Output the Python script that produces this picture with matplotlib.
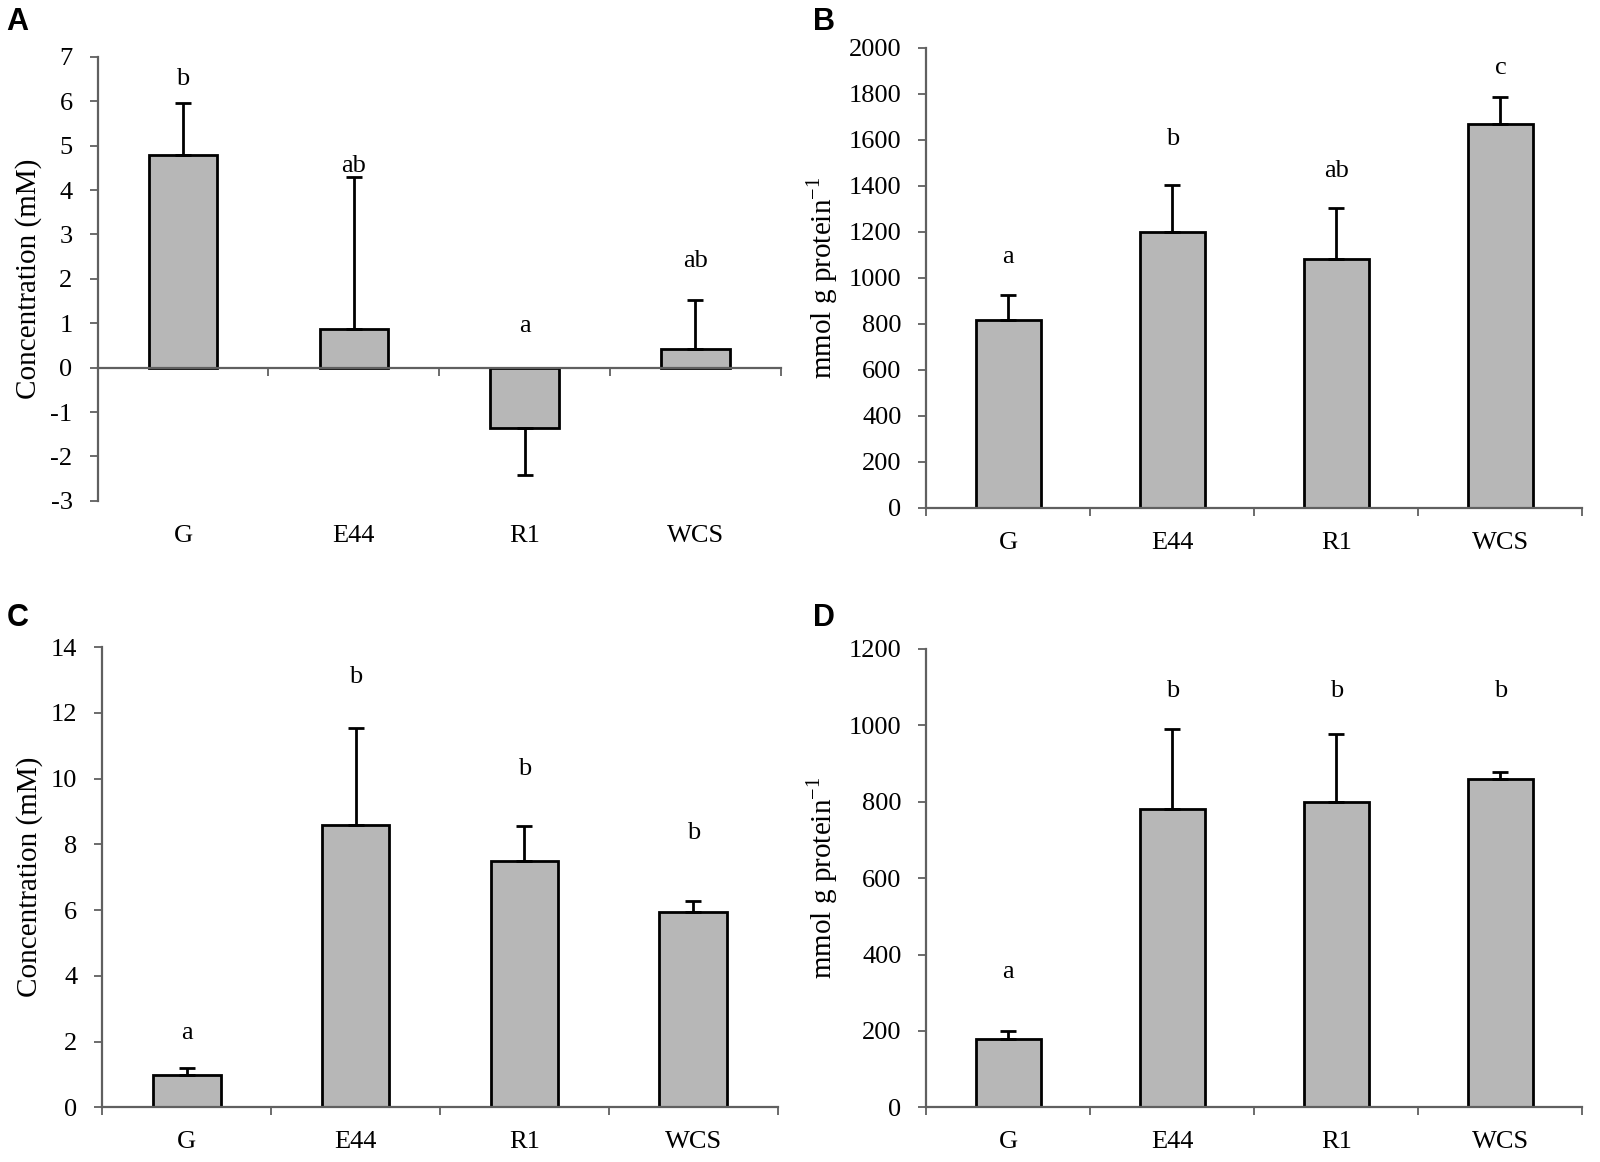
import matplotlib.pyplot as plt
import numpy as np

plt.rcParams['font.family'] = 'Liberation Serif'
plt.rcParams['mathtext.fontset'] = 'custom'
plt.rcParams['mathtext.rm'] = 'Liberation Serif'
plt.rcParams['axes.unicode_minus'] = False

groups = ['G', 'E44', 'R1', 'WCS']

# panel A
a_vals = [4.8, 0.86, -1.36, 0.43]
a_err = [1.17, 3.44, 1.05, 1.09]
a_sig = ['b', 'ab', 'a', 'ab']
a_sig_y = [6.5, 4.55, 0.93, 2.4]

# panel B
b_vals = [818, 1199, 1080, 1667]
b_err = [106, 204, 222, 117]
b_sig = ['a', 'b', 'ab', 'c']
b_sig_y = [1091, 1604, 1466, 1910]

# panel C
c_vals = [1.0, 8.6, 7.5, 5.95]
c_err = [0.2, 2.95, 1.06, 0.33]
c_sig = ['a', 'b', 'b', 'b']
c_sig_y = [2.25, 13.1, 10.3, 8.34]

# panel D
d_vals = [178, 781, 800, 860]
d_err = [21, 209, 178, 17]
d_sig = ['a', 'b', 'b', 'b']
d_sig_y = [355, 1090, 1090, 1090]

conc_label = 'Concentration (mM)'
prot_label = r'mmol g protein$^{\mathregular{-1}}$'

BAR = '#b7b7b7'
AXC = '#606060'
FS = 19

fig = plt.figure(figsize=(16, 11.62), dpi=100)


def panel(rect, vals, err, sig, sig_y, ylim, step, ylabel, letter, letter_xy):
    ax = fig.add_axes(rect)
    x = np.arange(len(groups))
    vals = np.array(vals)
    err = np.array(err)
    ax.bar(x, vals, width=0.4, color=BAR, edgecolor='black', linewidth=2, zorder=2)
    lower = np.where(vals < 0, err, 0)
    upper = np.where(vals < 0, 0, err)
    ax.errorbar(x, vals, yerr=[lower, upper], fmt='none', ecolor='black',
                elinewidth=2, capsize=6, capthick=2, zorder=3)
    for xi, s, sy in zip(x, sig, sig_y):
        ax.text(xi, sy, s, ha='center', va='center', fontsize=FS)

    ax.set_xlim(-0.5, len(groups) - 0.5)
    ax.set_ylim(*ylim)
    ax.set_yticks(np.arange(ylim[0], ylim[1] + step / 2, step))
    ax.set_xticks(np.arange(len(groups) + 1) - 0.5)
    ax.set_xticklabels([])
    ax.tick_params(axis='both', direction='out', length=6, width=1.3,
                   color=AXC, labelsize=FS)
    ax.tick_params(axis='y', pad=12)
    for side in ['top', 'right']:
        ax.spines[side].set_visible(False)
    for side in ['left', 'bottom']:
        ax.spines[side].set_color(AXC)
        ax.spines[side].set_linewidth(1.6)
    ax.spines['bottom'].set_position(('data', 0))

    for xi, g in zip(x, groups):
        ax.annotate(g, xy=(xi, 0), xycoords=('data', 'axes fraction'),
                    xytext=(0, -25), textcoords='offset points',
                    ha='center', va='center', fontsize=FS)

    ax.set_ylabel(ylabel, fontsize=21, labelpad=6)
    fig.text(letter_xy[0], letter_xy[1], letter, fontsize=22, fontweight='bold',
             family='Liberation Sans', ha='left', va='top')
    return ax


panel([0.061, 0.569, 0.427, 0.382], a_vals, a_err, a_sig, a_sig_y,
      (-3, 7), 1, conc_label, 'A', (0.004, 0.994))
panel([0.579, 0.563, 0.41, 0.396], b_vals, b_err, b_sig, b_sig_y,
      (0, 2000), 200, prot_label, 'B', (0.508, 0.994))
panel([0.064, 0.047, 0.422, 0.396], c_vals, c_err, c_sig, c_sig_y,
      (0, 14), 2, conc_label, 'C', (0.004, 0.481))
panel([0.579, 0.047, 0.41, 0.3945], d_vals, d_err, d_sig, d_sig_y,
      (0, 1200), 200, prot_label, 'D', (0.508, 0.481))

plt.savefig('out.png', dpi=100)
